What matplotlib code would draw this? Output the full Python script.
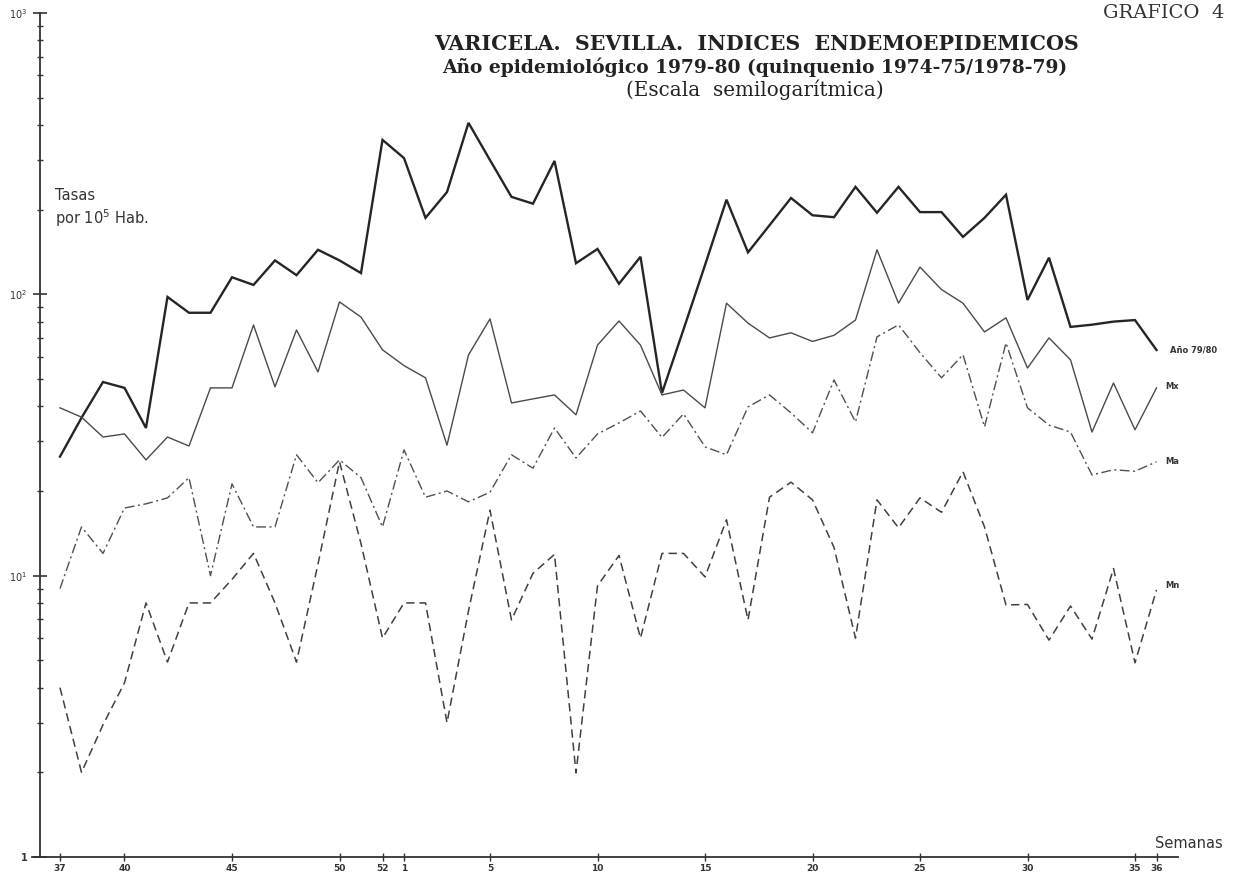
import numpy as np
import matplotlib
matplotlib.use("Agg")
import matplotlib.pyplot as plt
from matplotlib.lines import Line2D
from matplotlib.ticker import FixedLocator, NullFormatter

# semanas epidemiologicas: 37..52 de 1979 y 1..36 de 1980
weeks = list(range(37, 53)) + list(range(1, 37))
tick_weeks = [37, 40, 45, 50, 52, 1, 5, 10, 15, 20, 25, 30, 35, 36]

# tasas por 10^5 hab.
ano_79_80 = [26.5, 36.4, 48.8, 46.5, 33.5, 97.9, 86, 86, 115, 108, 132, 117, 144, 132, 119, 354,
             305, 187, 231, 407, 300, 222, 210, 298, 129, 145, 109, 136,
             44.6, 75, 127, 217, 141, 176, 220, 191,
             188, 241, 195, 241, 196, 196, 160, 187, 226,
             95.5, 135, 76.6, 78, 80, 81, 63.4]
mx = [39.5, 36.6, 31.1, 31.9, 25.8, 31.1, 28.9, 46.5, 46.5, 77.8, 46.9, 74.7, 53, 94, 83, 63.5,
      55.8, 50.5, 29.1, 60.9, 81.8, 41.1, 42.5, 43.9, 37.3, 66, 80.4, 66,
      43.9, 45.7, 39.5, 93, 79, 70, 73, 68,
      71.5, 81, 144, 93, 125, 104, 93, 73.5, 82.5,
      54.7, 70, 58.5, 32.4, 48.4, 33, 46.5]
ma = [9.0, 14.9, 12.0, 17.4, 18.0, 18.9, 22.3, 10.0, 21.2, 14.9, 14.9, 26.9, 21.4, 25.8, 22.3, 14.9,
      28.0, 19.0, 20.0, 18.3, 19.8, 26.9, 24.1, 33.5, 26.2, 31.9, 34.9, 38.5,
      31.0, 37.6, 28.7, 26.9, 39.8, 43.9, 37.9, 32.2,
      49.6, 35.2, 70.6, 77.9, 62, 50.5, 61, 33.8, 67.2,
      39.5, 34.3, 32.4, 22.8, 23.8, 23.5, 25.4]
mn = [4.0, 2.0, 2.95, 4.16, 8.0, 4.93, 8.0, 8.0, 9.7, 12.0, 8.0, 4.93, 11, 25.4, 13, 6.0,
      8.0, 8.0, 3.0, 7.5, 17.1, 6.96, 10.2, 11.9, 1.99, 9.2, 11.8, 6.0,
      12, 12, 9.9, 15.8, 6.96, 19, 21.5, 18.6,
      12.6, 6.0, 18.6, 14.8, 18.9, 16.8, 23.4, 14.9, 7.87,
      7.9, 5.9, 7.8, 5.95, 10.6, 4.9, 8.9]

plt.rcParams['lines.scale_dashes'] = False

W, H = 1241, 880
fig = plt.figure(figsize=(W / 100, H / 100), dpi=100)
x0, x1, y0, y1 = 40, 1178, 857, 13
ax = fig.add_axes([x0 / W, 1 - y0 / H, (x1 - x0) / W, (y0 - y1) / H])

idx = np.arange(len(weeks))
ax.plot(idx, ano_79_80, color='#252525', lw=1.7, solid_joinstyle='miter')
ax.plot(idx, mx, color='#4a4a4a', lw=1.0)
ax.plot(idx, ma, color='#505050', lw=1.0, dashes=(7, 2.5, 1.5, 2.5))
ax.plot(idx, mn, color='#404040', lw=1.1, dashes=(6, 3.5))

ax.set_yscale('log')
ax.set_ylim(1, 1000)
ax.set_xlim(-20 / 21.5, (x1 - 60) / 21.5)

for s in ('top', 'right'):
    ax.spines[s].set_visible(False)
for s in ('left', 'bottom'):
    ax.spines[s].set_linewidth(1.3)
    ax.spines[s].set_color('#333333')

# el eje de abscisas asoma un poco a la izquierda del de ordenadas
fig.add_artist(Line2D([32 / W, x0 / W], [1 - y0 / H, 1 - y0 / H], color='#333333', lw=1.3))

ax.yaxis.set_major_locator(FixedLocator([1, 10, 100, 1000]))
ax.set_yticklabels(['1', r'$10^1$', r'$10^2$', r'$10^3$'], fontsize=7, fontweight='bold', color='#333333')
minors = [m * 10 ** d for d in range(3) for m in range(2, 10)]
ax.yaxis.set_minor_locator(FixedLocator(minors))
ax.yaxis.set_minor_formatter(NullFormatter())
ax.tick_params(axis='y', which='major', direction='inout', length=10, width=1.2, pad=4, colors='#333333')
ax.tick_params(axis='y', which='minor', direction='inout', length=5, width=1.0, colors='#333333')

tick_pos = [weeks.index(w) if w >= 37 else 16 + w - 1 for w in tick_weeks]
ax.set_xticks(tick_pos)
ax.set_xticklabels([str(w) for w in tick_weeks], fontsize=6.5, fontweight='bold', color='#333333')
ax.tick_params(axis='x', direction='inout', length=6, width=1.0, pad=2, colors='#333333')

# rotulos de las series
lab_kw = dict(fontsize=6, fontweight='bold', color='#333333', va='center', ha='left')
last = len(weeks) - 1
ax.annotate('Año 79/80', (last, ano_79_80[-1]), xytext=(10, 0), textcoords='offset points', **lab_kw)
ax.annotate('Mx', (last, mx[-1]), xytext=(6, 1), textcoords='offset points', **lab_kw)
ax.annotate('Ma', (last, ma[-1]), xytext=(6, 0), textcoords='offset points', **lab_kw)
ax.annotate('Mn', (last, mn[-1]), xytext=(6, 3), textcoords='offset points', **lab_kw)

fig.text(55 / W, 1 - 196 / H, 'Tasas', fontsize=10.5, color='#333333', va='center')
fig.text(55 / W, 1 - 218 / H, r'por 10$^5$ Hab.', fontsize=10.5, color='#333333', va='center')
fig.text(1155 / W, 1 - 843 / H, 'Semanas', fontsize=10.5, color='#333333', va='center')

serif = 'DejaVu Serif'
fig.text(1103 / W, 1 - 13 / H, 'GRAFICO  4', fontsize=14, family=serif, color='#333333', va='center')
fig.text(757 / W, 1 - 44 / H, 'VARICELA.  SEVILLA.  INDICES  ENDEMOEPIDEMICOS', fontsize=14.8,
         family=serif, fontweight='bold', color='#222222', ha='center', va='center')
fig.text(755 / W, 1 - 67 / H, 'Año epidemiológico 1979-80 (quinquenio 1974-75/1978-79)', fontsize=13.4,
         family=serif, fontweight='bold', color='#222222', ha='center', va='center')
fig.text(755 / W, 1 - 90 / H, '(Escala  semilogarítmica)', fontsize=14.3, family=serif,
         color='#222222', ha='center', va='center')

fig.savefig('out.png', dpi=100, facecolor='white')
